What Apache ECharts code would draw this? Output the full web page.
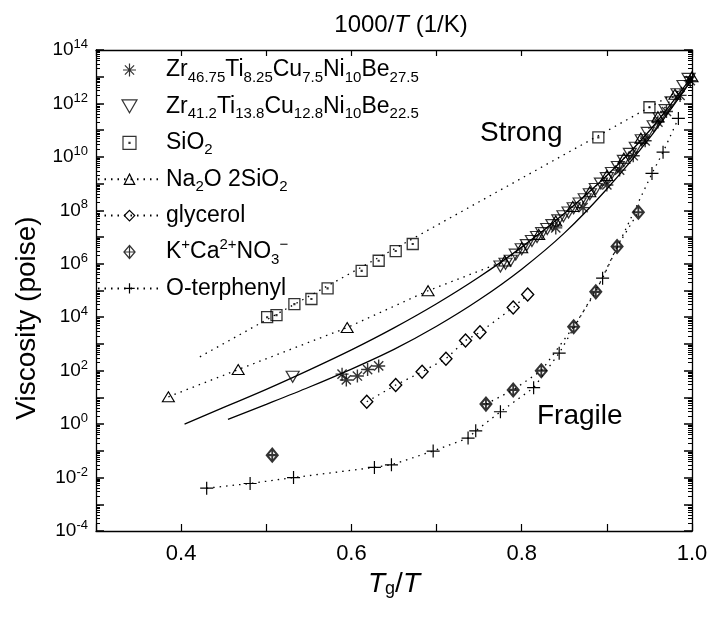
<!DOCTYPE html>
<html><head><meta charset="utf-8">
<script src="https://cdn.jsdelivr.net/npm/echarts@6/dist/echarts.min.js"></script>
<style>html,body{margin:0;padding:0;background:#fff}#c{width:711px;height:617px}</style>
</head><body><div id="c"></div>
<script>
// ---------------- data (x = Tg/T, y = viscosity in poise) ----------------
const zr46 = [[0.589,7.4e1],[0.594,4.5e1],[0.607,6.3e1],[0.619,1.1e2],[0.632,1.5e2],
  [0.840,2.2e7],[0.872,1.26e8],[0.900,8.9e8],[0.915,3.2e9],[0.931,1.1e10],[0.945,4.0e10],
  [0.960,2.0e11],[0.970,5.0e11],[0.986,2.0e12],[0.998,7.1e12]];
const zr41 = [[0.531,5.9e1],
  [0.775,7.9e5],[0.781,1.0e6],[0.787,1.3e6],[0.793,2.2e6],[0.800,3.5e6],[0.806,5.0e6],
  [0.812,7.1e6],[0.818,1.0e7],[0.824,1.4e7],[0.830,2.0e7],[0.836,2.8e7],[0.843,4.2e7],
  [0.849,6.0e7],[0.855,8.3e7],[0.861,1.2e8],[0.868,1.8e8],[0.874,2.6e8],[0.880,4.0e8],
  [0.887,6.3e8],[0.893,1.0e9],[0.900,1.6e9],[0.906,2.5e9],[0.913,4.2e9],[0.920,7.1e9],
  [0.927,1.3e10],[0.934,2.2e10],[0.941,4.2e10],[0.948,7.9e10],[0.955,1.4e11],[0.962,2.8e11],
  [0.969,5.6e11],[0.976,1.1e12],[0.983,2.2e12],[0.990,4.5e12],[0.996,8.3e12]];
const sio2 = [[0.501,1.0e4],[0.512,1.2e4],[0.533,3.1e4],[0.553,4.8e4],[0.572,1.2e5],
  [0.612,5.4e5],[0.632,1.3e6],[0.652,3.0e6],[0.672,5.5e6],[0.890,5.4e10],[0.950,7.2e11]];
const sio2Fit = [[0.422,3.3e2],[1.0,5.5e12]];
const na2o = [[0.385,1.05e1],[0.467,1.1e2],[0.595,4.1e3],[0.690,9.8e4],
  [0.780,1.26e6],[0.800,4.0e6],[0.820,1.26e7],[0.840,4.0e7],[0.860,1.4e8],[0.880,5.0e8],
  [0.900,2.0e9],[0.920,8.9e9],[0.940,5.0e10],[0.960,3.2e11],[0.980,2.2e12],[1.000,1.0e13]];
const glycerol = [[0.618,6.9],[0.652,2.9e1],[0.683,9.1e1],[0.711,2.8e2],[0.734,1.35e3],
  [0.751,2.75e3],[0.790,2.3e4],[0.807,7.1e4]];
const kca = [[0.507,6.9e-2],[0.758,5.6],[0.790,1.9e1],[0.823,1.0e2],[0.861,4.4e3],
  [0.887,8.9e4],[0.912,4.4e6],[0.937,8.5e7]];
const oterphenyl = [[0.430,4.0e-3],[0.481,6.0e-3],[0.532,1.0e-2],[0.627,2.4e-2],[0.647,3.0e-2],
  [0.696,9.8e-2],[0.737,3.0e-1],[0.746,5.6e-1],[0.775,2.9],[0.814,2.3e1],[0.844,4.5e2],
  [0.895,2.9e5],[0.953,2.4e9],[0.966,1.5e10],[0.984,2.75e11]];
const zr41Fit = [[0.404,1.0],[0.45,4.2],[0.50,2.0e1],[0.55,1.05e2],[0.60,6.0e2],[0.65,4.0e3],
  [0.70,3.2e4],[0.75,3.2e5],[0.80,4.2e6],[0.85,7.6e7],[0.90,2.0e9],[0.95,9.5e10],[1.0,1.0e13]];
const zr46Fit = [[0.455,1.5],[0.50,5.5],[0.55,2.4e1],[0.60,1.15e2],[0.65,6.3e2],[0.70,4.6e3],
  [0.75,4.5e4],[0.80,6.3e5],[0.85,1.4e7],[0.90,6.3e8],[0.95,5.0e10],[1.0,7.9e12]];
const xMin = 0.3, xMax = 1.0, xStep = 0.1;
const yExpMin = -4, yExpMax = 14;
const seriesNames = ['zr46','zr41','sio2','na2o','glycerol','kca','oterphenyl'];
const legendLabels = {
  zr46: 'Zr{d|46.75}Ti{d|8.25}Cu{d|7.5}Ni{d|10}Be{d|27.5}',
  zr41: 'Zr{d|41.2}Ti{d|13.8}Cu{d|12.8}Ni{d|10}Be{d|22.5}',
  sio2: 'SiO{d|2}',
  na2o: 'Na{d|2}O 2SiO{d|2}',
  glycerol: 'glycerol',
  kca: 'K{u|+}Ca{u|2+}NO{d|3}{u|−}',
  oterphenyl: 'O-terphenyl'
};
// ---------------- styling ----------------
const FONT = '"Liberation Sans", Arial, Helvetica, sans-serif';
const SYM = {
  star: 'path://M0,-10L0,10M-10,0L10,0M-7.07,-7.07L7.07,7.07M-7.07,7.07L7.07,-7.07',
  down: 'path://M-6,-5L6,-5L0,5.4Z',
  square: 'path://M-5,-5L5,-5L5,5L-5,5ZM-0.4,-0.4L0.4,-0.4L0.4,0.4L-0.4,0.4Z',
  up: 'path://M0,-5.4L6,5L-6,5Z',
  diamond: 'path://M0,-7L6,0L0,7L-6,0Z',
  kca: 'path://M0,-7L6,0L0,7L-6,0ZM0,-7L0,7M-6,0L6,0',
  plus: 'path://M-6,0L6,0M0,-6L0,6'
};
const hollow = (w) => ({color: 'rgba(0,0,0,0)', borderColor: '#000', borderWidth: w});
const dotted = {type: [1.5, 5], width: 1.3, color: '#000'};
const solid = {type: 'solid', width: 1.3, color: '#000'};

const decades = [], evenDecades = [], minors = [];
for (let e = yExpMin; e <= yExpMax; e++) {
  decades.push(Math.pow(10, e));
  if (e % 2 === 0) evenDecades.push(Math.pow(10, e));
  if (e < yExpMax) for (let m = 2; m <= 9; m++) minors.push(m * Math.pow(10, e));
}
const yBase = {type: 'log', logBase: 10, min: Math.pow(10, yExpMin), max: Math.pow(10, yExpMax),
  splitLine: {show: false}, axisLabel: {show: false}};
const axisLineStyle = {show: true, lineStyle: {color: '#000', width: 1.3}};

const chart = echarts.init(document.getElementById('c'), null, {renderer: 'canvas'});
chart.setOption({
  animation: false,
  backgroundColor: '#fff',
  textStyle: {fontFamily: FONT, color: '#000'},
  title: {
    text: '1000/{i|T} (1/K)', left: 396, top: 8, textAlign: 'center',
    textStyle: {fontFamily: FONT, fontSize: 24, fontWeight: 'normal', color: '#000',
      rich: {i: {fontFamily: FONT, fontSize: 24, fontStyle: 'italic', color: '#000'}}}
  },
  grid: {left: 96, right: 19, top: 50, bottom: 86},
  legend: {
    data: seriesNames, left: 97, top: 55, orient: 'vertical', padding: 0,
    itemWidth: 63, itemHeight: 13, itemGap: 6.4, selectedMode: false,
    itemStyle: {color: 'rgba(0,0,0,0)', borderColor: '#000', borderWidth: 1.2},
    formatter: n => legendLabels[n],
    textStyle: {fontFamily: FONT, fontSize: 23, lineHeight: 30, color: '#000',
      rich: {
        d: {fontFamily: FONT, fontSize: 15, lineHeight: 15, verticalAlign: 'bottom', color: '#000'},
        u: {fontFamily: FONT, fontSize: 15, lineHeight: 15, verticalAlign: 'top', color: '#000'}
      }}
  },
  xAxis: [{
    type: 'value', min: xMin, max: xMax, interval: xStep, position: 'bottom',
    name: '{i|T}{s|g}/{i|T}', nameLocation: 'middle', nameGap: 36,
    nameTextStyle: {fontFamily: FONT, fontSize: 28, color: '#000',
      rich: {i: {fontFamily: FONT, fontSize: 28, fontStyle: 'italic', color: '#000'},
             s: {fontFamily: FONT, fontSize: 18, lineHeight: 18, verticalAlign: 'bottom', color: '#000'}}},
    axisLine: axisLineStyle,
    axisTick: {show: true, inside: true, length: 7, lineStyle: {color: '#000', width: 1.2}},
    axisLabel: {show: true, fontFamily: FONT, fontSize: 22, color: '#000', margin: 12,
      formatter: v => (Math.round(v * 10) % 2 === 0 ? v.toFixed(1) : '')},
    splitLine: {show: false}
  }, {
    type: 'value', min: xMin, max: xMax, interval: xStep, position: 'top',
    axisLine: axisLineStyle,
    axisTick: {show: true, inside: true, length: 6, lineStyle: {color: '#000', width: 1.2}},
    axisLabel: {show: false}, splitLine: {show: false}
  }],
  yAxis: [
    Object.assign({}, yBase, {position: 'left', axisLine: axisLineStyle,
      axisTick: {show: true, inside: true, length: 8, customValues: decades, lineStyle: {color: '#000', width: 1.5}},
      axisLabel: {show: true, customValues: evenDecades, margin: 8, fontFamily: FONT, color: '#000',
        formatter: v => '{b|10}{s|' + Math.round(Math.log10(v)) + '}',
        rich: {b: {fontFamily: FONT, fontSize: 19, lineHeight: 24, color: '#000'},
               s: {fontFamily: FONT, fontSize: 13, lineHeight: 13, verticalAlign: 'top', color: '#000'}}}}),
    Object.assign({}, yBase, {position: 'left', axisLine: {show: false},
      axisTick: {show: true, inside: true, length: 4, customValues: minors, lineStyle: {color: '#000', width: 1}}}),
    Object.assign({}, yBase, {position: 'right', axisLine: axisLineStyle,
      axisTick: {show: true, inside: true, length: 8, customValues: decades, lineStyle: {color: '#000', width: 1.5}}}),
    Object.assign({}, yBase, {position: 'right', axisLine: {show: false},
      axisTick: {show: true, inside: true, length: 4, customValues: minors, lineStyle: {color: '#000', width: 1}}})
  ],
  graphic: [
    {type: 'text', left: 480, top: 119, style: {text: 'Strong', font: '28px ' + FONT, fill: '#000'}},
    {type: 'text', left: 537, top: 402, style: {text: 'Fragile', font: '28px ' + FONT, fill: '#000'}},
    {type: 'text', x: 27, y: 318, rotation: Math.PI / 2,
      style: {text: 'Viscosity (poise)', font: '28px ' + FONT, fill: '#000', align: 'center', verticalAlign: 'middle'}}
  ],
  series: [
    {name: '_sio2Fit', type: 'line', data: sio2Fit, symbol: 'none', lineStyle: dotted, silent: true, z: 1},
    {name: '_kcaFit', type: 'line', data: kca.slice(1), symbol: 'none', lineStyle: dotted, silent: true, z: 1},
    {name: '_zr41Fit', type: 'line', data: zr41Fit, symbol: 'none', smooth: 0.3, lineStyle: solid, silent: true, z: 1},
    {name: '_zr46Fit', type: 'line', data: zr46Fit, symbol: 'none', smooth: 0.3, lineStyle: solid, silent: true, z: 1},
    {name: 'zr46', type: 'scatter', data: zr46, symbol: SYM.star, symbolSize: 13, itemStyle: hollow(1.4), z: 5},
    {name: 'zr41', type: 'scatter', data: zr41, symbol: SYM.down, symbolSize: [13, 11], itemStyle: hollow(1.2), z: 4},
    {name: 'sio2', type: 'scatter', data: sio2, symbol: SYM.square, symbolSize: 11, itemStyle: hollow(1.3), z: 4},
    {name: 'na2o', type: 'line', data: na2o, symbol: SYM.up, symbolSize: [12, 10], showAllSymbol: true,
      lineStyle: dotted, itemStyle: hollow(1.1), z: 3},
    {name: 'glycerol', type: 'line', data: glycerol, symbol: SYM.diamond, symbolSize: [12, 13], showAllSymbol: true,
      lineStyle: dotted, itemStyle: hollow(1.4), z: 3},
    {name: 'kca', type: 'scatter', data: kca, symbol: SYM.kca, symbolSize: [11, 13], itemStyle: hollow(2), z: 4},
    {name: 'oterphenyl', type: 'line', data: oterphenyl, symbol: SYM.plus, symbolSize: 13, showAllSymbol: true,
      lineStyle: dotted, itemStyle: hollow(1.2), z: 3}
  ]
});
</script></body></html>
